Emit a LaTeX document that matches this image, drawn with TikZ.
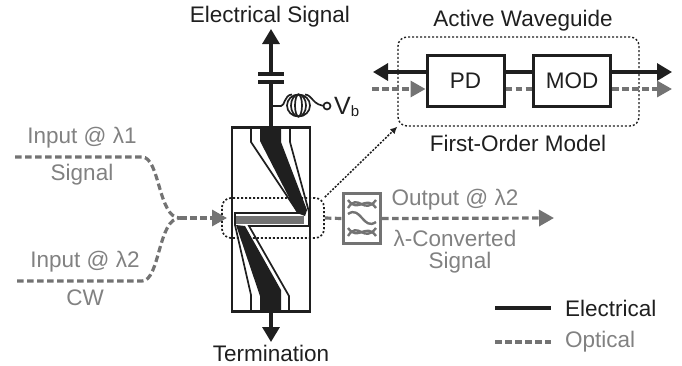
\documentclass[tikz,border=0pt]{standalone}
\usepackage{fontspec}
\setmainfont{Liberation Sans}
\usetikzlibrary{arrows.meta}
\definecolor{elec}{gray}{0.12}
\definecolor{opt}{gray}{0.45}
\tikzset{
	label/.style={font=\fontsize{22.5}{26}\selectfont, text=elec, inner sep=0pt},
	graylabel/.style={label, text=opt!90!white},
	elecline/.style={draw=elec, line width=3.2pt},
	optline/.style={draw=opt, line width=3.2pt, dash pattern=on 6.5pt off 3.5pt},
	trace/.style={draw=elec, line width=1.7pt},
	wave/.style={draw=opt, line width=2.4pt},
	elecarrow/.style={-{Triangle[length=15pt,width=17pt]}},
	optarrow/.style={-{Triangle[length=15pt,width=16pt,color=opt]}},
	block/.style={draw=elec, line width=3pt, fill=white, minimum width=77pt, minimum height=51pt, inner sep=0pt, font=\fontsize{22.5}{26}\selectfont, text=elec},
	zone/.style={draw=elec, line width=1.7pt, dash pattern=on 2pt off 2pt, rounded corners=9pt, inner sep=0pt},
}
\begin{document}
\begin{tikzpicture}[x=1pt,y=-1pt]
	\useasboundingbox (0,0) rectangle (682,365);

	\node[draw=elec, line width=2.4pt, minimum width=78pt, minimum height=184pt, inner sep=0pt] (chip) at (271,219.5) {};

	\fill[elec] (260,127) -- (281,127) -- (281,142) -- (307,210) -- (305,216) -- (297,213) -- (260,141) -- cycle;
	\fill[elec] (236,225) -- (245,226) -- (281,290) -- (281,312) -- (260,312) -- (260,296) -- cycle;
	\fill[opt] (236,216) rectangle (304,224);
	\draw[trace] (251,127) -- (251,142) -- (297,211);
	\draw[trace] (301,213) -- (235,213) -- (235,225) -- (251,295) -- (251,312);
	\draw[trace] (290,127) -- (290,142) -- (309,212) -- (309,226) -- (249,226) -- (289,296) -- (289,312);

	\node[zone, minimum width=102pt, minimum height=40pt] (window) at (273,218) {};
	\node[zone, line width=1.4pt, minimum width=241pt, minimum height=89pt] (model) at (518.5,81.5) {};
	\node[block] (pd) at (465.5,80.5) {PD};
	\node[block] (mod) at (572,80.5) {MOD};
	\node[draw=opt, line width=3.4pt, minimum width=37pt, minimum height=50pt, inner sep=0pt] (filter) at (362,218.5) {};

	\coordinate (in1) at (15,157);
	\coordinate (in2) at (17,281);
	\coordinate (merge) at (180,218);
	\coordinate (chipin) at (227,218);
	\coordinate (outtip) at (554,218);
	\coordinate (sigtip) at (271,29);
	\coordinate (termtip) at (271,342);
	\coordinate (cap1) at (271,74);
	\coordinate (cap2) at (271,82);
	\coordinate (tap) at (271,106);
	\coordinate (bias) at (327,106);
	\coordinate (lefttip) at (373,72);
	\coordinate (righttip) at (672,72);
	\coordinate (optleft) at (372,89);
	\coordinate (optright) at (672,89);
	\coordinate (leg1a) at (495,308);
	\coordinate (leg1b) at (551,308);
	\coordinate (leg2a) at (495,342);
	\coordinate (leg2b) at (551,342);

	\draw[elecline] (chip.north) -- (cap2);
	\draw[elecline, elecarrow] (cap1) -- (sigtip);
	\draw[elecline] (258,74) -- (284,74);
	\draw[elecline] (258,82) -- (284,82);
	\draw[elecline, elecarrow] (chip.south) -- (termtip);

	\draw[trace] (tap) -- (281,106) .. controls (285,106) and (284,95) .. (292,94.5);
	\foreach \rx in {11.5,7.5,3.5}
		\draw[trace] (298.5,105.5) ellipse ({\rx pt} and 11pt);
	\draw[trace] (305,94.5) .. controls (313,95) and (312,106) .. (bias);
	\node[draw=elec, line width=1.7pt, fill=white, circle, minimum size=7pt, inner sep=0pt] (biaspad) at (bias) {};
	\node[label, anchor=west] (vb) at (334,107) {\fontsize{25}{26}\selectfont V\raisebox{-2pt}{\fontsize{15}{15}\selectfont b}};

	\draw[elecline, elecarrow] (pd.west |- lefttip) -- (lefttip);
	\draw[elecline] (pd.east |- lefttip) -- (mod.west |- lefttip);
	\draw[elecline, elecarrow] (mod.east |- righttip) -- (righttip);
	\draw[optline, optarrow] (optleft) -- (pd.west |- optleft);
	\draw[optline] (pd.east |- optleft) -- (mod.west |- optleft);
	\draw[optline, optarrow] (mod.east |- optright) -- (optright);

	\draw[optline] (in1) -- (142,157) .. controls (160,157) and (158,218) .. (merge);
	\draw[optline] (in2) -- (142,281) .. controls (160,281) and (158,218) .. (merge);
	\draw[optline, optarrow] (merge) -- (chipin);
	\draw[optline] (window.east) -- (filter.west);
	\draw[optline, optarrow] (filter.east) -- (outtip);

	\draw[draw=elec, line width=1.5pt, dash pattern=on 2pt off 1.5pt, -{Latex[length=7pt,width=7pt]}] (window.north east) -- (model.south west);

	\draw[wave] (348,208) .. controls (358,192) and (364,216) .. (376,200);
	\draw[wave] (348,200) .. controls (358,214) and (366,194) .. (376,208);
	\draw[wave] (348,214) .. controls (361,205) and (363,231) .. (376,222);
	\draw[wave] (348,236) .. controls (358,220) and (364,244) .. (376,228);
	\draw[wave] (348,228) .. controls (358,242) and (366,222) .. (376,236);

	\draw[elecline] (leg1a) -- (leg1b);
	\draw[optline] (leg2a) -- (leg2b);

	\node[label] (elecsig) at (270,17) {Electrical Signal};
	\node[label] (term) at (271,353) {Termination};
	\node[label] (active) at (523,21) {Active Waveguide};
	\node[label] (firstorder) at (518,143) {First-Order Model};
	\node[graylabel] (input1) at (82,138) {Input @ λ1};
	\node[graylabel] (signal1) at (82,175) {Signal};
	\node[graylabel] (input2) at (85,262) {Input @ λ2};
	\node[graylabel] (cw) at (85,298) {CW};
	\node[graylabel] (output) at (455,200) {Output @ λ2};
	\node[graylabel] (converted) at (455,238) {λ-Converted};
	\node[graylabel] (signal2) at (460,263) {Signal};
	\node[label, anchor=west] (legelec) at (565,308) {Electrical};
	\node[graylabel, anchor=west] (legopt) at (565,342) {Optical};
\end{tikzpicture}
\end{document}
